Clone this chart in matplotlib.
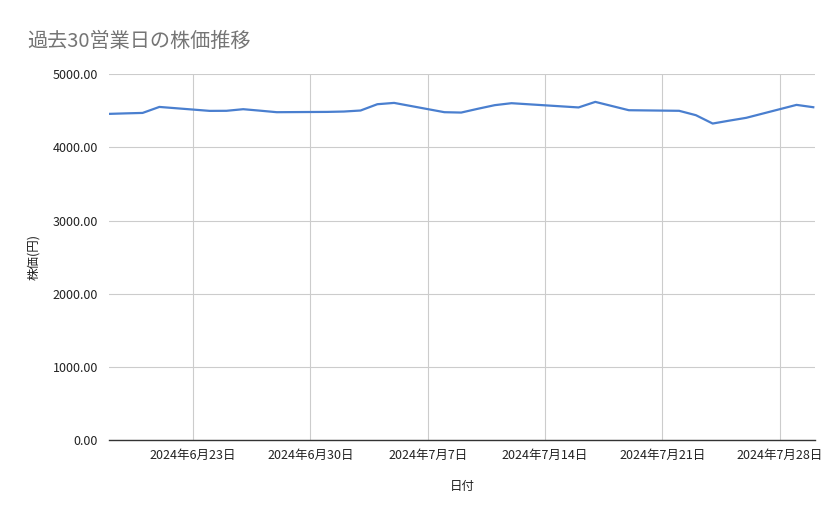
import matplotlib
matplotlib.use("Agg")
import matplotlib.pyplot as plt
import matplotlib.dates as mdates
import pandas as pd
import numpy as np

plt.rcParams['font.family'] = ['Noto Sans CJK JP', 'DejaVu Sans']

dates = ["2024-06-18", "2024-06-19", "2024-06-20", "2024-06-21",
         "2024-06-24", "2024-06-25", "2024-06-26", "2024-06-27", "2024-06-28",
         "2024-07-01", "2024-07-02", "2024-07-03", "2024-07-04", "2024-07-05",
         "2024-07-08", "2024-07-09", "2024-07-10", "2024-07-11", "2024-07-12",
         "2024-07-16", "2024-07-17", "2024-07-18", "2024-07-19",
         "2024-07-22", "2024-07-23", "2024-07-24", "2024-07-25", "2024-07-26",
         "2024-07-29", "2024-07-30"]
prices = [4458, 4465, 4471, 4553,
          4499, 4500, 4522, 4502, 4481,
          4485, 4490, 4504, 4590, 4608,
          4481, 4476, 4528, 4577, 4604,
          4546, 4622, 4565, 4508,
          4500, 4440, 4326, 4366, 4404,
          4581, 4549]
yticks = [0, 1000, 2000, 3000, 4000, 5000]
xtick_dates = ["2024-06-23", "2024-06-30", "2024-07-07", "2024-07-14", "2024-07-21", "2024-07-28"]

d = pd.to_datetime(dates)
fig = plt.figure(figsize=(8.39, 5.19), dpi=100)
ax = fig.add_axes([0.130, 0.152, 0.841, 0.705])
ax.plot(d, prices, color='#4a7fcf', linewidth=1.6, solid_joinstyle='round')

ax.set_ylim(0, 5000)
ax.set_yticks(yticks)
ax.set_yticklabels([f"{v:.2f}" for v in yticks])
ax.set_xlim(pd.Timestamp("2024-06-18"), pd.Timestamp("2024-07-30 02:00"))
xt = pd.to_datetime(xtick_dates)
ax.set_xticks(xt)
ax.set_xticklabels([f"{t.year}年{t.month}月{t.day}日" for t in xt])

ax.grid(True, color='#cccccc', linewidth=0.8)
ax.set_axisbelow(True)
for s in ['top', 'right', 'left']:
    ax.spines[s].set_visible(False)
ax.spines['bottom'].set_color('#333333')
ax.spines['bottom'].set_linewidth(1.0)
ax.tick_params(axis='both', length=0, labelsize=9, labelcolor='#222222')
ax.tick_params(axis='y', pad=8)
ax.tick_params(axis='x', pad=6)

ax.set_xlabel("日付", fontsize=9, color='#222222', labelpad=13)
ax.set_ylabel("株価(円)", fontsize=9, color='#222222', labelpad=9)

fig.text(0.032, 0.91, "過去30営業日の株価推移", fontsize=14.5, color='#757575', ha='left', va='baseline')

fig.savefig("out.png", dpi=100)
